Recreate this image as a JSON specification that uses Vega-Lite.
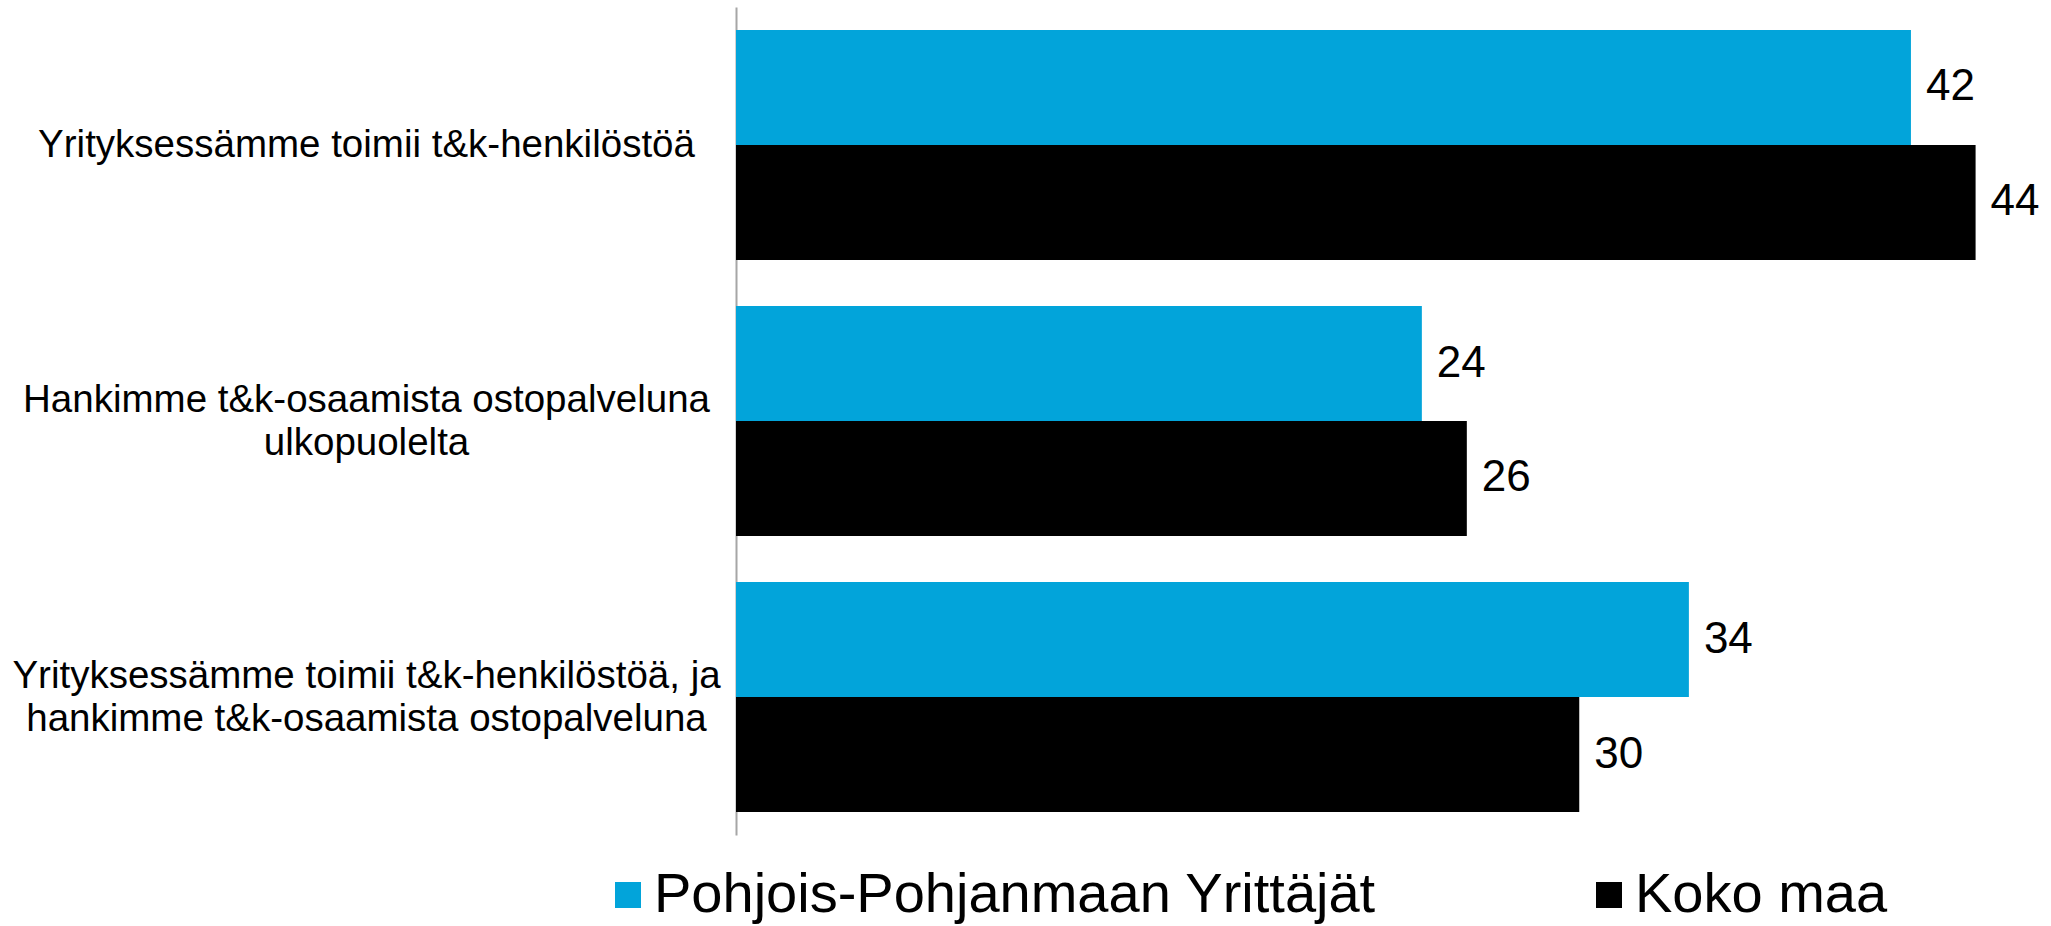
{
  "$schema": "https://vega.github.io/schema/vega-lite/v6.json",
  "autosize": {"type": "none"},
  "padding": {"left": 736, "top": 7, "right": 22, "bottom": 91},
  "width": 1293,
  "height": 828,
  "background": "white",
  "data": {
    "values": [
      {"kategoria": "Yrityksessämme toimii t&k-henkilöstöä", "sarja": "Pohjois-Pohjanmaan Yrittäjät", "arvo": 41.8},
      {"kategoria": "Yrityksessämme toimii t&k-henkilöstöä", "sarja": "Koko maa", "arvo": 44.1},
      {"kategoria": "Hankimme t&k-osaamista ostopalveluna|ulkopuolelta", "sarja": "Pohjois-Pohjanmaan Yrittäjät", "arvo": 24.4},
      {"kategoria": "Hankimme t&k-osaamista ostopalveluna|ulkopuolelta", "sarja": "Koko maa", "arvo": 26.0},
      {"kategoria": "Yrityksessämme toimii t&k-henkilöstöä, ja|hankimme t&k-osaamista ostopalveluna", "sarja": "Pohjois-Pohjanmaan Yrittäjät", "arvo": 33.9},
      {"kategoria": "Yrityksessämme toimii t&k-henkilöstöä, ja|hankimme t&k-osaamista ostopalveluna", "sarja": "Koko maa", "arvo": 30.0}
    ]
  },
  "encoding": {
    "y": {
      "field": "kategoria",
      "type": "nominal",
      "sort": [
        "Yrityksessämme toimii t&k-henkilöstöä",
        "Hankimme t&k-osaamista ostopalveluna|ulkopuolelta",
        "Yrityksessämme toimii t&k-henkilöstöä, ja|hankimme t&k-osaamista ostopalveluna"
      ],
      "scale": {"paddingInner": 0.1667, "paddingOuter": 0.0833},
      "axis": {
        "title": null,
        "labelExpr": "split(datum.value, '|')",
        "labelAlign": "center",
        "labelBaseline": "middle",
        "labelPadding": 370,
        "labelFont": "Liberation Sans",
        "labelFontSize": 38.5,
        "labelLineHeight": 43,
        "labelColor": "#000000",
        "labelLimit": 1000,
        "labelOffset": {"condition": {"test": "indexof(datum.value, '|') >= 0", "value": -21.5}, "value": 0},
        "ticks": false,
        "grid": false,
        "domain": true,
        "domainColor": "#A6A6A6",
        "domainWidth": 2
      }
    },
    "yOffset": {
      "field": "sarja",
      "type": "nominal",
      "sort": ["Pohjois-Pohjanmaan Yrittäjät", "Koko maa"],
      "scale": {"paddingInner": 0, "paddingOuter": 0}
    },
    "x": {
      "field": "arvo",
      "type": "quantitative",
      "scale": {"domain": [0, 46], "nice": false},
      "axis": null
    }
  },
  "layer": [
    {
      "mark": {"type": "bar"},
      "encoding": {
        "color": {
          "field": "sarja",
          "type": "nominal",
          "sort": ["Pohjois-Pohjanmaan Yrittäjät", "Koko maa"],
          "scale": {"domain": ["Pohjois-Pohjanmaan Yrittäjät", "Koko maa"], "range": ["#02A4DA", "#000000"]},
          "legend": {
            "title": null,
            "orient": "none",
            "direction": "horizontal",
            "columns": 2,
            "legendX": -136,
            "legendY": 860,
            "symbolType": "square",
            "symbolSize": 676,
            "symbolStrokeWidth": 0,
            "symbolOpacity": 1,
            "labelFont": "Liberation Sans",
            "labelFontSize": 56,
            "labelColor": "#000000",
            "labelOffset": -2,
            "labelLimit": 1000,
            "columnPadding": 204
          }
        }
      }
    },
    {
      "mark": {"type": "text", "align": "left", "baseline": "middle", "dx": 15, "font": "Liberation Sans", "fontSize": 44, "color": "#000000"},
      "encoding": {
        "text": {"field": "arvo", "type": "quantitative", "format": ".0f"}
      }
    }
  ],
  "config": {"view": {"stroke": null}}
}
